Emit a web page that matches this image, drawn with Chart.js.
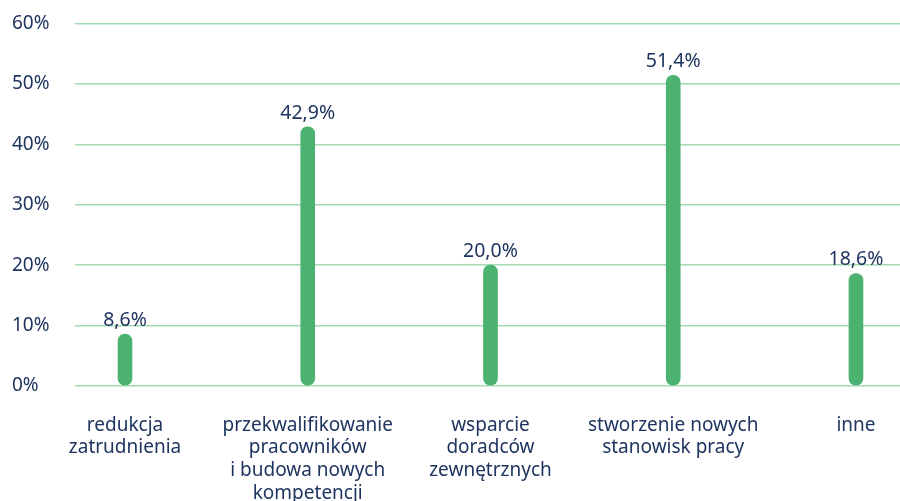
<!DOCTYPE html>
<html>
<head>
<meta charset="utf-8">
<script src="https://cdn.jsdelivr.net/npm/chart.js@4"></script>
<style>
  html, body { margin: 0; padding: 0; background: #fff; }
  #wrap { width: 900px; height: 501px; }
</style>
</head>
<body>
<div id="wrap"><canvas id="chart"></canvas></div>
<script>
// dane
const categories = [
    ['redukcja', 'zatrudnienia'],
    ['przekwalifikowanie', 'pracowników', 'i budowa nowych', 'kompetencji'],
    ['wsparcie', 'doradców', 'zewnętrznych'],
    ['stworzenie nowych', 'stanowisk pracy'],
    ['inne']
];
const values = [8.6, 42.9, 20.0, 51.4, 18.6];
const yTicks = [0, 10, 20, 30, 40, 50, 60];

const navy = '#1f3560';
const green = '#4bb26f';
const gridGreen = '#a3dab2';
const fontFamily = '"Noto Sans", sans-serif';

// etykiety wartości nad słupkami
const valueLabels = {
    id: 'valueLabels',
    afterDatasetsDraw(chart) {
        const ctx = chart.ctx;
        const meta = chart.getDatasetMeta(0);
        ctx.save();
        ctx.fillStyle = navy;
        ctx.font = '19.5px ' + fontFamily;
        ctx.textAlign = 'center';
        ctx.textBaseline = 'bottom';
        meta.data.forEach((bar, i) => {
            ctx.fillText(values[i].toFixed(1).replace('.', ',') + '%', bar.x, bar.y - 4);
        });
        ctx.restore();
    }
};

new Chart(document.getElementById('chart'), {
    type: 'bar',
    data: {
        datasets: [{
            data: values.map((v, i) => ({ x: i, y: v })),
            backgroundColor: green,
            barThickness: 14,
            borderRadius: 7,
            borderSkipped: false
        }]
    },
    options: {
        responsive: true,
        maintainAspectRatio: false,
        animation: false,
        layout: { padding: { top: 22, right: 0, left: 12, bottom: 0 } },
        plugins: {
            legend: { display: false },
            tooltip: { enabled: false }
        },
        scales: {
            x: {
                type: 'linear',
                offset: false,
                min: -0.2736,
                max: 4.241,
                grid: { display: false },
                border: { display: false },
                afterBuildTicks: scale => {
                    scale.ticks = categories.map((c, i) => ({ value: i }));
                },
                afterFit: scale => { scale.height = 115; },
                ticks: {
                    color: navy,
                    padding: 20,
                    maxRotation: 0,
                    autoSkip: false,
                    font: { family: fontFamily, size: 19, lineHeight: 1.19 },
                    callback: value => categories[value]
                }
            },
            y: {
                min: 0,
                max: 60,
                afterBuildTicks: scale => {
                    scale.ticks = yTicks.map(v => ({ value: v }));
                },
                afterFit: scale => { scale.width = 63; },
                grid: { color: gridGreen, lineWidth: 1.5, drawTicks: false },
                border: { display: false },
                ticks: {
                    color: navy,
                    align: 'center',
                    crossAlign: 'far',
                    padding: 12,
                    font: { family: fontFamily, size: 19 },
                    callback: value => value + '%'
                }
            }
        }
    },
    plugins: [valueLabels]
});
</script>
</body>
</html>
